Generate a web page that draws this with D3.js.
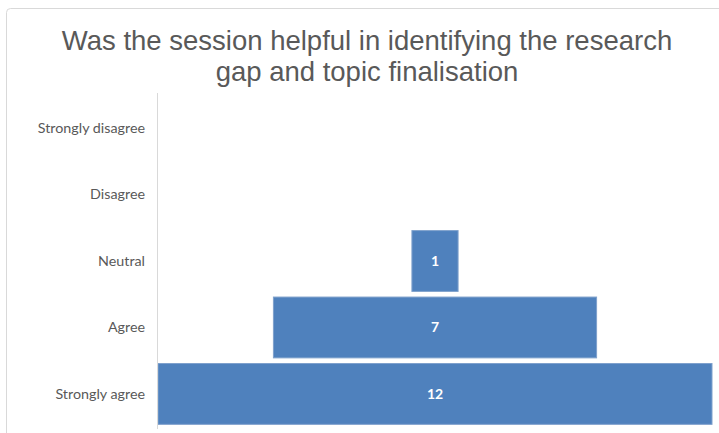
<!DOCTYPE html>
<html>
<head>
<meta charset="utf-8">
<script src="https://cdn.jsdelivr.net/npm/d3@7"></script>
<style>
  html, body { margin: 0; padding: 0; background: #fff; }
  svg { display: block; }
</style>
</head>
<body>
<svg id="chart" width="719" height="433"></svg>
<script>
const categories = ["Strongly disagree", "Disagree", "Neutral", "Agree", "Strongly agree"];
const values = [0, 0, 1, 7, 12];
const titleLines = ["Was the session helpful in identifying the research", "gap and topic finalisation"];

const W = 719, H = 433;
const svg = d3.select("#chart");

// chart frame
svg.append("rect")
  .attr("x", 6.5).attr("y", 8.5)
  .attr("width", 740).attr("height", 440)
  .attr("rx", 4)
  .attr("fill", "#fff")
  .attr("stroke", "#d9d9d9")
  .attr("stroke-width", 1);

// title
const title = svg.append("text")
  .attr("text-anchor", "middle")
  .attr("font-family", "'Liberation Sans', Arial, sans-serif")
  .attr("font-size", 27.5)
  .attr("fill", "#595959");
title.selectAll("tspan").data(titleLines).join("tspan")
  .attr("x", 367)
  .attr("y", (d, i) => 50 + i * 31)
  .attr("textLength", null)
  .text(d => d);

const margin = { left: 157, right: 7, top: 95, bottom: 6 };
const plotW = W - margin.left - margin.right;

const y = d3.scaleBand()
  .domain(categories)
  .range([margin.top, H - margin.bottom])
  .paddingInner(0.085)
  .paddingOuter(0.04);

const maxV = d3.max(values);
const x = d3.scaleLinear().domain([0, maxV]).range([0, plotW - 1]);
const cx = margin.left + 1 + (plotW - 1) / 2;

// bars
const data = categories.map((c, i) => ({ c, v: values[i] }));
svg.append("g").selectAll("rect").data(data.filter(d => d.v > 0)).join("rect")
  .attr("x", d => cx - x(d.v) / 2)
  .attr("y", d => y(d.c))
  .attr("width", d => x(d.v))
  .attr("height", y.bandwidth())
  .attr("fill", "#4f81bd")
  .attr("stroke", "#7fa1cc")
  .attr("stroke-width", 1);

// value labels
svg.append("g").selectAll("text").data(data.filter(d => d.v > 0)).join("text")
  .attr("x", cx)
  .attr("y", d => y(d.c) + y.bandwidth() / 2)
  .attr("dy", "0.35em")
  .attr("text-anchor", "middle")
  .attr("font-family", "Lato, 'Open Sans', sans-serif")
  .attr("font-weight", "bold")
  .attr("font-size", 14)
  .attr("fill", "#ffffff")
  .text(d => d.v);

// category axis
const axis = d3.axisLeft(y).tickSize(0).tickPadding(12);
const gAxis = svg.append("g")
  .attr("transform", `translate(${margin.left},0)`)
  .call(axis);
gAxis.select(".domain").attr("stroke", "#d9d9d9").attr("stroke-width", 1)
  .attr("d", `M0.5,${margin.top - 2}V${H - 4}`);
gAxis.selectAll("text")
  .attr("font-family", "Lato, 'Open Sans', sans-serif")
  .attr("font-size", 14.3)
  .attr("fill", "#595959");
</script>
</body>
</html>
